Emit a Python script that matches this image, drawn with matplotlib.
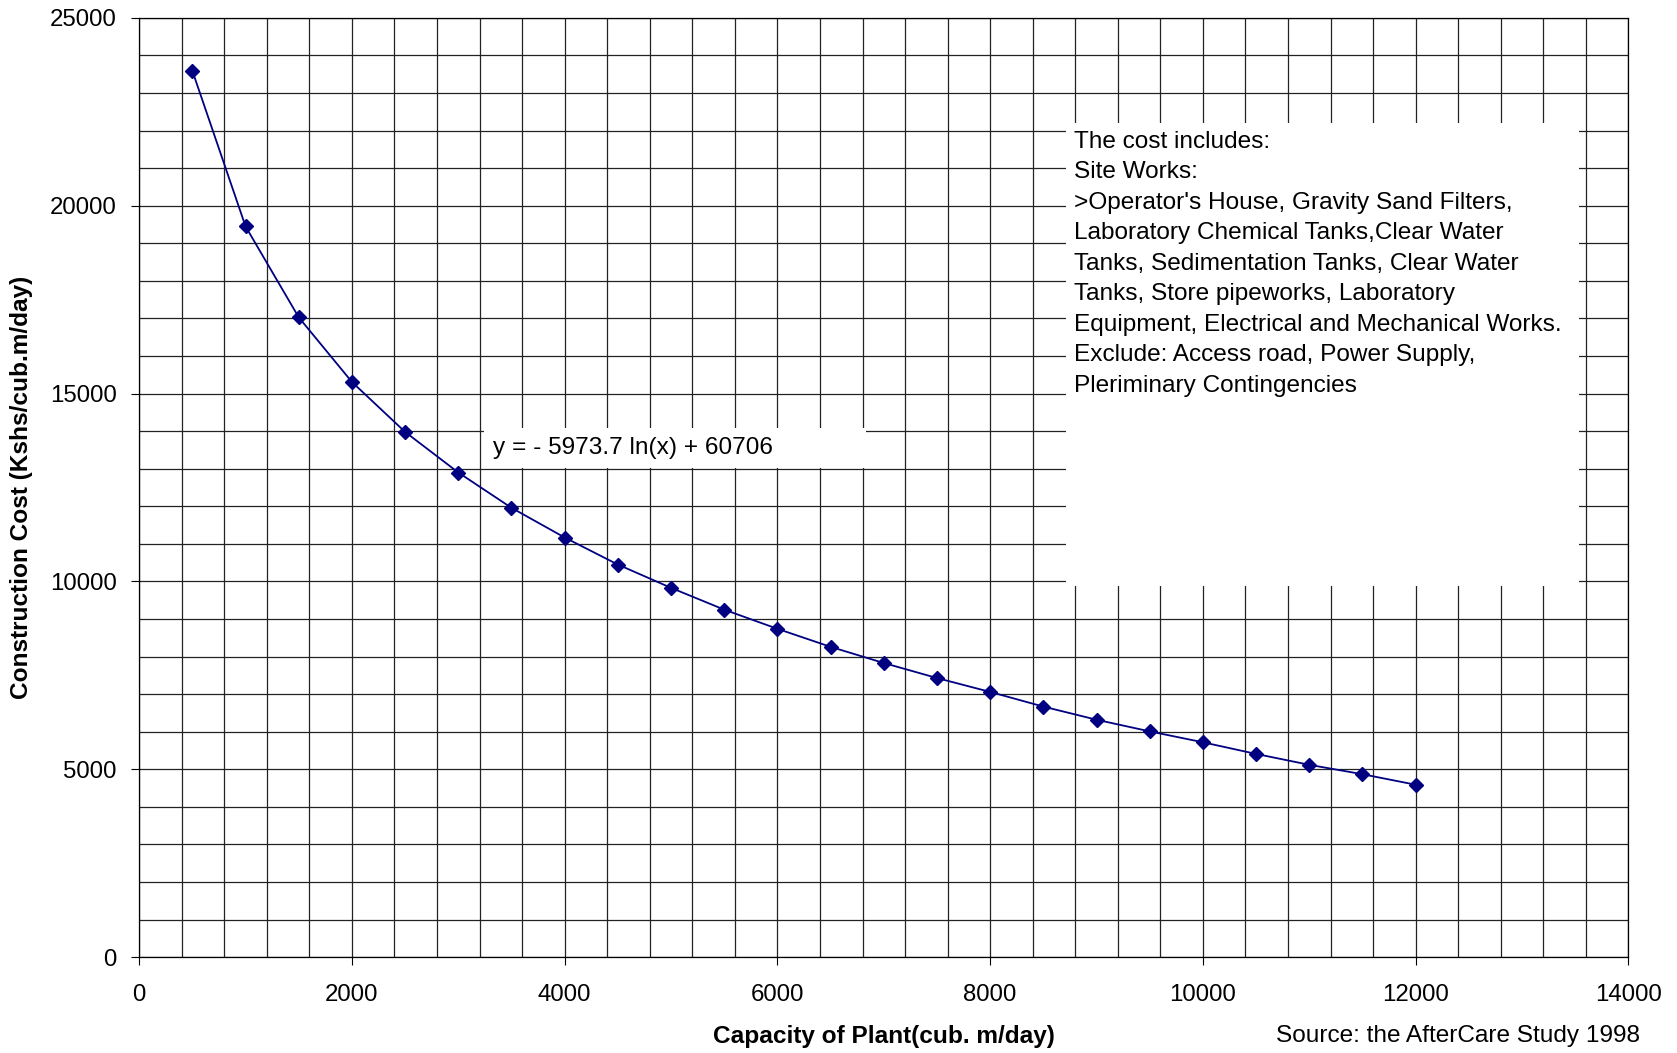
import numpy as np
import matplotlib.pyplot as plt
from matplotlib.patches import Rectangle

plt.rcParams['font.family'] = ['Liberation Sans', 'DejaVu Sans']

# Capacidade da planta e custo de construcao
capacity = [500, 1000, 1500, 2000, 2500, 3000, 3500, 4000, 4500, 5000, 5500, 6000,
            6500, 7000, 7500, 8000, 8500, 9000, 9500, 10000, 10500, 11000, 11500, 12000]
cost = [23590, 19450, 17030, 15310, 13980, 12900, 11960, 11170, 10450, 9830, 9250, 8740,
        8260, 7830, 7430, 7060, 6670, 6320, 6010, 5720, 5410, 5120, 4870, 4590]

x_ticks = [0, 2000, 4000, 6000, 8000, 10000, 12000, 14000]
y_ticks = [0, 5000, 10000, 15000, 20000, 25000]

equation = 'y = - 5973.7 ln(x) + 60706'
note = ("The cost includes:\n"
        "Site Works:\n"
        ">Operator's House, Gravity Sand Filters,\n"
        "Laboratory Chemical Tanks,Clear Water\n"
        "Tanks, Sedimentation Tanks, Clear Water\n"
        "Tanks, Store pipeworks, Laboratory\n"
        "Equipment, Electrical and Mechanical Works.\n"
        "Exclude: Access road, Power Supply,\n"
        "Pleriminary Contingencies")
source = 'Source: the AfterCare Study 1998'

fs = 17.6

fig = plt.figure(figsize=(16.77, 10.53), dpi=100)
ax = fig.add_axes([0.083, 0.091, 0.888, 0.892])

ax.plot(capacity, cost, color='#000080', lw=1.3, marker='D', ms=7.5,
        mec='#000080', mfc='#000080', zorder=3)

ax.set_xlim(0, 14000)
ax.set_ylim(0, 25000)
ax.set_xticks(x_ticks)
ax.set_yticks(y_ticks)
ax.set_xticks(np.arange(0, 14001, 400), minor=True)
ax.set_yticks(np.arange(0, 25001, 1000), minor=True)
ax.tick_params(which='major', direction='out', length=6, width=0.8,
               labelsize=17.3)
ax.tick_params(axis='x', pad=13)
ax.tick_params(axis='y', pad=10)
ax.tick_params(which='minor', length=0)
ax.set_axisbelow(True)
ax.grid(which='both', color='#222222', lw=0.9)
for s in ax.spines.values():
    s.set_color('black')
    s.set_linewidth(0.9)

# caixas brancas sobre a grade
ax.add_patch(Rectangle((8714, 9880), 4824, 12330, facecolor='white',
                       edgecolor='none', zorder=1))
ax.add_patch(Rectangle((3246, 13012), 3588, 1082, facecolor='white',
                       edgecolor='none', zorder=1))

ax.text(8784, 22000, note, fontsize=fs, va='top', ha='left',
        linespacing=1.5, zorder=4)
ax.text(3327, 13560, equation, fontsize=fs, va='center', ha='left', zorder=4)

ax.set_xlabel('Capacity of Plant(cub. m/day)', fontsize=fs, fontweight='bold',
              labelpad=14)
ax.set_ylabel('Construction Cost (Kshs/cub.m/day)', fontsize=fs,
              fontweight='bold', labelpad=12)
fig.text(0.978, 0.016, source, fontsize=fs, ha='right', va='center')

fig.savefig('out.png', dpi=100)
